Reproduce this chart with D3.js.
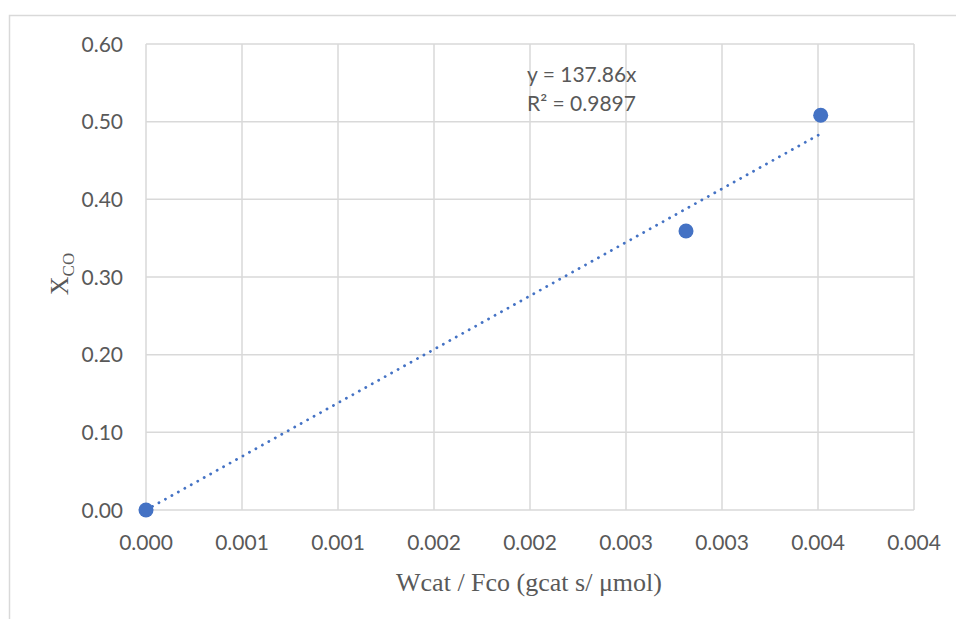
<!DOCTYPE html>
<html>
<head>
<meta charset="utf-8">
<script src="https://cdn.jsdelivr.net/npm/d3@7"></script>
<style>
  body { margin: 0; background: #fff; }
  svg { display: block; }
</style>
</head>
<body>
<div id="chart"></div>
<script>
// data
const xValues = [0, 0.0028125, 0.003514]
const yValues = [0, 0.3592, 0.5082]
const xTicks = [0, 0.0005, 0.001, 0.0015, 0.002, 0.0025, 0.003, 0.0035, 0.004]
const xTickLabels = ["0.000", "0.001", "0.001", "0.002", "0.002", "0.003", "0.003", "0.004", "0.004"]
const yTicks = [0, 0.1, 0.2, 0.3, 0.4, 0.5, 0.6]
const trendSlope = 137.86
const trendLabels = ["y = 137.86x", "R² = 0.9897"]

const width = 956
const height = 619
const margin = { top: 44, right: 42, bottom: 109, left: 146 }

const blue = "#4472c4"
const grey = "#d9d9d9"
const textColor = "#595959"
const sans = "Lato, 'Open Sans', sans-serif"
const serif = "'Liberation Serif', 'Times New Roman', serif"

const svg = d3.select("#chart").append("svg")
  .attr("width", width)
  .attr("height", height)

// outer chart frame (runs off the right and bottom edge)
svg.append("rect")
  .attr("x", 9.5).attr("y", 15.5)
  .attr("width", 1000).attr("height", 700)
  .attr("fill", "none")
  .attr("stroke", grey)
  .attr("stroke-width", 1.5)

const x = d3.scaleLinear().domain([0, 0.004]).range([margin.left, width - margin.right])
const y = d3.scaleLinear().domain([0, 0.6]).range([height - margin.bottom, margin.top])

// gridlines
svg.append("g")
  .selectAll("line")
  .data(xTicks)
  .enter().append("line")
    .attr("x1", d => x(d)).attr("x2", d => x(d))
    .attr("y1", y(0.6)).attr("y2", y(0))
    .attr("stroke", grey).attr("stroke-width", 1.5)

svg.append("g")
  .selectAll("line")
  .data(yTicks)
  .enter().append("line")
    .attr("x1", x(0)).attr("x2", x(0.004))
    .attr("y1", d => y(d)).attr("y2", d => y(d))
    .attr("stroke", grey).attr("stroke-width", 1.5)

// tick labels
svg.append("g")
  .selectAll("text")
  .data(yTicks)
  .enter().append("text")
    .attr("x", 123)
    .attr("y", d => y(d))
    .attr("dy", "0.36em")
    .attr("text-anchor", "end")
    .attr("font-family", sans)
    .attr("font-size", 21)
    .attr("fill", textColor)
    .text(d => d.toFixed(2))

svg.append("g")
  .selectAll("text")
  .data(xTicks)
  .enter().append("text")
    .attr("x", d => x(d))
    .attr("y", 550)
    .attr("text-anchor", "middle")
    .attr("font-family", sans)
    .attr("font-size", 21)
    .attr("fill", textColor)
    .text((d, i) => xTickLabels[i])

// axis titles
svg.append("text")
  .attr("x", 529)
  .attr("y", 591)
  .attr("text-anchor", "middle")
  .attr("font-family", serif)
  .attr("font-size", 26)
  .attr("fill", textColor)
  .text("Wcat / Fco (gcat s/ μmol)")

const yTitle = svg.append("text")
  .attr("transform", "translate(68,274) rotate(-90)")
  .attr("text-anchor", "middle")
  .attr("font-family", serif)
  .attr("font-size", 26)
  .attr("fill", textColor)
yTitle.append("tspan").text("X")
yTitle.append("tspan").attr("font-size", 17).attr("dy", 6).text("CO")

// trendline
const xMax = d3.max(xValues)
svg.append("line")
  .attr("x1", x(0)).attr("y1", y(0))
  .attr("x2", x(xMax)).attr("y2", y(trendSlope * xMax))
  .attr("stroke", blue)
  .attr("stroke-width", 2.8)
  .attr("stroke-linecap", "round")
  .attr("stroke-dasharray", "0.1 7.3")

// points
const points = xValues.map((d, i) => ({ x: d, y: yValues[i] }))
svg.append("g")
  .selectAll("circle")
  .data(points)
  .enter().append("circle")
    .attr("cx", d => x(d.x))
    .attr("cy", d => y(d.y))
    .attr("r", 7.5)
    .attr("fill", blue)

// trendline label
svg.append("g")
  .selectAll("text")
  .data(trendLabels)
  .enter().append("text")
    .attr("x", 527)
    .attr("y", (d, i) => 82 + i * 29)
    .attr("font-family", sans)
    .attr("font-size", 21)
    .attr("fill", textColor)
    .text(d => d)
</script>
</body>
</html>
